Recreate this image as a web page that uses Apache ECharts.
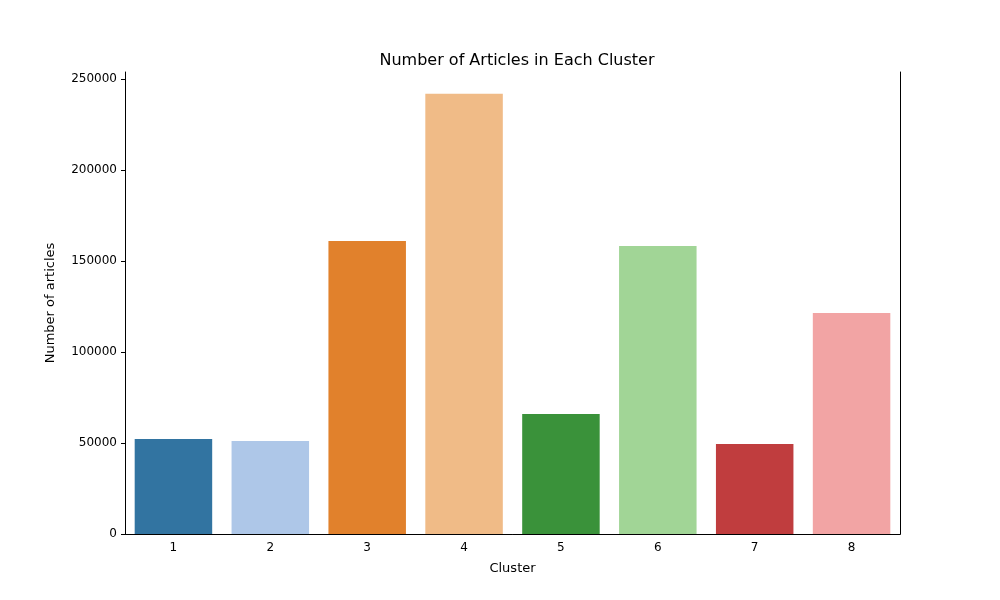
<!DOCTYPE html>
<html><head><meta charset="utf-8">
<script src="https://cdn.jsdelivr.net/npm/echarts@6/dist/echarts.min.js"></script>
<style>body{margin:0}#c{width:1000px;height:600px}</style></head>
<body><div id="c"></div>
<script>
const categories = ['1','2','3','4','5','6','7','8'];
const values = [52200, 51100, 161000, 241800, 65900, 158200, 49400, 121400];
const colors = ['#3274a1','#aec7e8','#e1812c','#f0bb87','#3a923a','#a1d596','#c03d3e','#f2a4a4'];
const yTicks = [0, 50000, 100000, 150000, 200000, 250000];
const chart = echarts.init(document.getElementById('c'));
const font = 'DejaVu Sans';
chart.setOption({
  animation:false,
  title:{text:'Number of Articles in Each Cluster',left:512,top:48,textAlign:'center',textStyle:{fontFamily:font,fontSize:16,fontWeight:'normal',color:'#000'}},
  grid:{left:125,right:100,top:72,bottom:66},
  xAxis:[{type:'category',data:categories,name:'Cluster',nameLocation:'middle',nameGap:28,
    nameTextStyle:{fontFamily:font,fontSize:13,color:'#000'},
    axisLine:{lineStyle:{color:'#000'}},axisTick:{alignWithLabel:true,length:4,lineStyle:{color:'#000'}},
    axisLabel:{fontFamily:font,fontSize:12,color:'#000',margin:8}},
   {type:'category',position:'top',data:categories,axisLine:{lineStyle:{color:'#000'}},axisTick:{show:false},axisLabel:{show:false}}],
  yAxis:[{type:'value',min:0,max:253800,interval:50000,name:'Number of articles',nameLocation:'middle',nameGap:68,
    nameTextStyle:{fontFamily:font,fontSize:13,color:'#000'},
    axisLine:{show:true,lineStyle:{color:'#000'}},axisTick:{show:true,length:4,lineStyle:{color:'#000'}},
    splitLine:{show:false},
    axisLabel:{fontFamily:font,fontSize:12,color:'#000',showMaxLabel:false,
      formatter:v=>yTicks.includes(v)?String(v):''}},
   {type:'value',position:'right',min:0,max:253800,axisLine:{show:true,lineStyle:{color:'#000'}},axisTick:{show:false},axisLabel:{show:false},splitLine:{show:false}}],
  series:[{type:'bar',data:values.map((v,i)=>({value:v,itemStyle:{color:colors[i]}})),barCategoryGap:'20%'}]
});
</script></body></html>
